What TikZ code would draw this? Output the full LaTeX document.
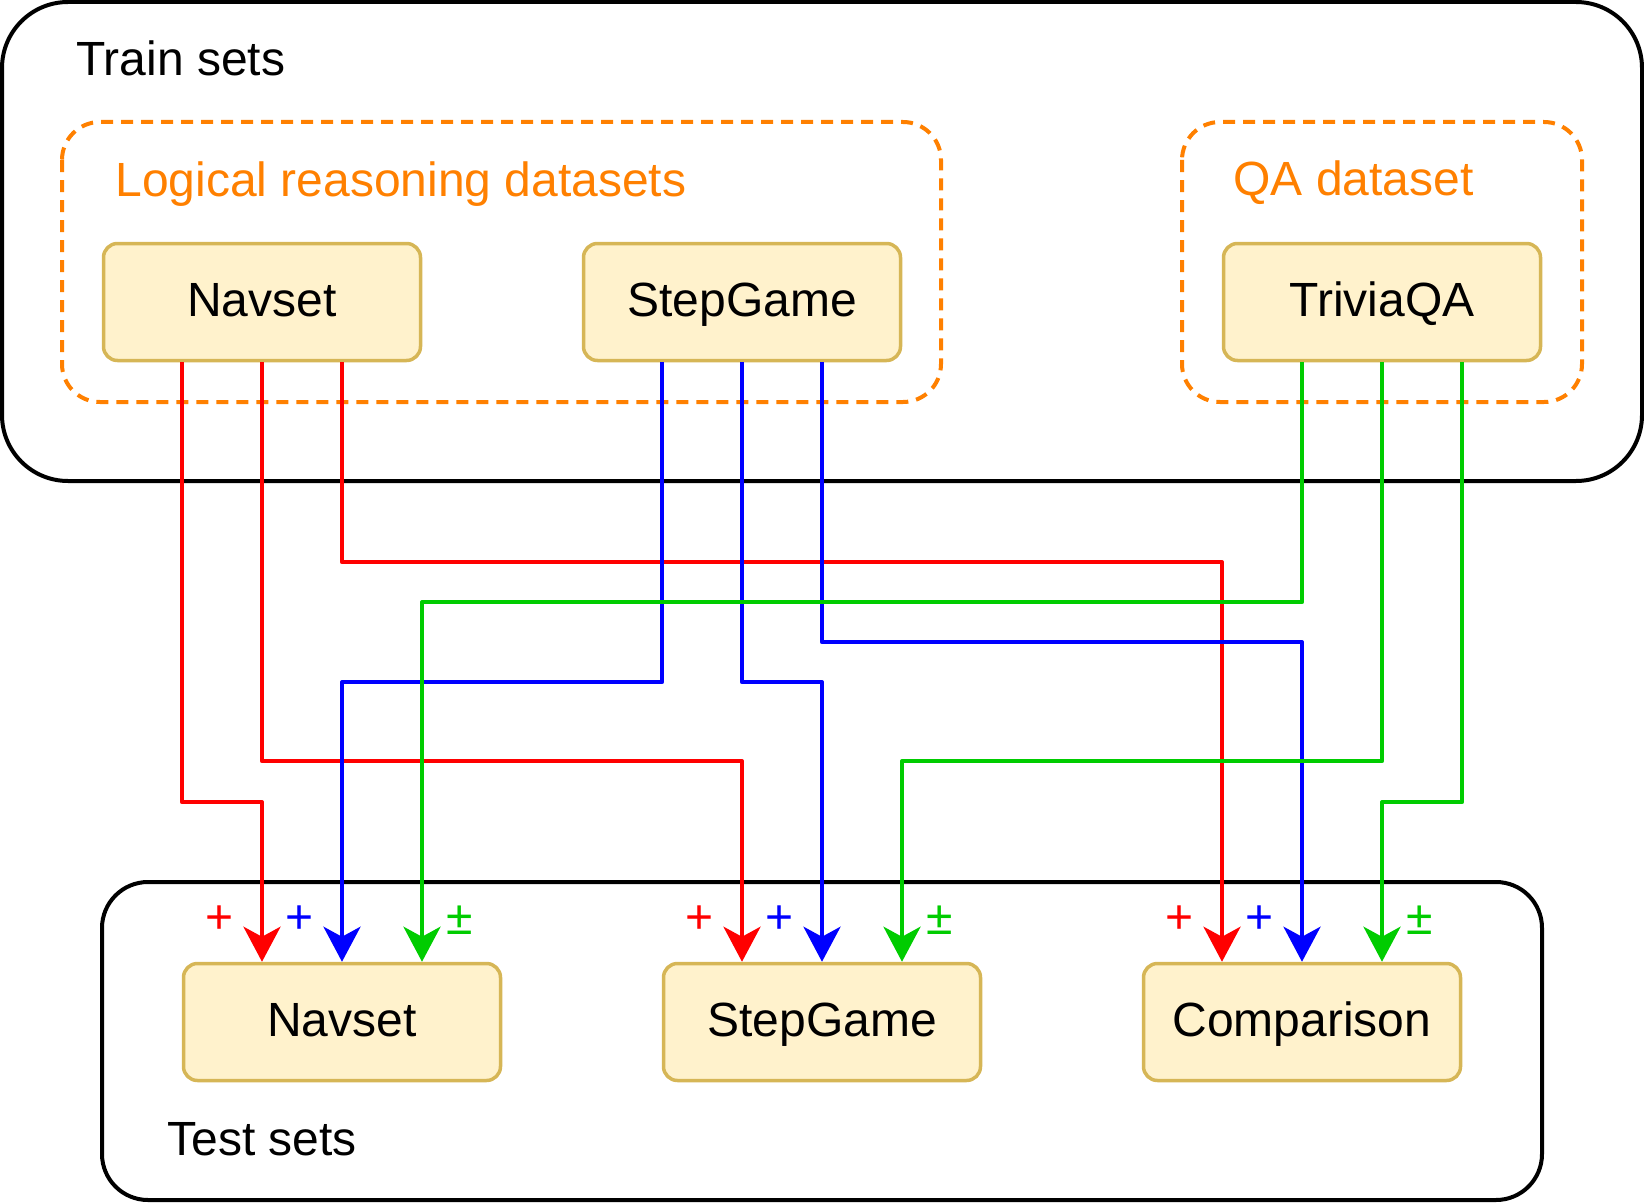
\documentclass[tikz,border=0pt]{standalone}
\usepackage{fontspec}
\setmainfont{Liberation Sans}
\usetikzlibrary{arrows.meta}

\definecolor{boxfill}{HTML}{FFF2CC}
\definecolor{boxline}{HTML}{D6B656}
\definecolor{grporange}{HTML}{FF8000}
\definecolor{lnred}{HTML}{FF0000}
\definecolor{lnblue}{HTML}{0000FF}
\definecolor{lngreen}{HTML}{00CC00}

\begin{document}
\begin{tikzpicture}[
        x = 0.5pt, y = -0.5pt,
        line join=round,
        frame/.style = {draw, line width=2pt},
        group/.style = {draw=grporange, line width=2pt, dash pattern=on 6pt off 4pt, rounded corners=19pt},
        dset/.style = {draw=boxline, fill=boxfill, line width=1.75pt, rounded corners=7pt,
            minimum width=158.5pt, minimum height=58.5pt, inner sep=0pt,
            font=\fontsize{24}{28}\selectfont, text height=14.5pt, text depth=0pt},
        title/.style = {anchor=base west, inner sep=0pt, font=\fontsize{24}{28}\selectfont},
        link/.style = {line width=2pt, -{Stealth[length=17.5pt, width=18.5pt, inset=5pt]}},
        sign/.style = {inner sep=0pt, font=\fontsize{24}{28}\selectfont}
    ]
        \useasboundingbox (0, 0) rectangle (1644, 1204);

        % train and test frames
        \draw[frame, rounded corners=33pt] (2, 2) rectangle (1642, 481);
        \draw[frame, rounded corners=23pt] (102, 882) rectangle (1542, 1200);
        \node[title] (trainlbl) at (76, 76) {Train sets};
        \node[title] (testlbl) at (167, 1155) {Test sets};

        % dataset groups
        \draw[group] (62, 122) rectangle (941, 402);
        \draw[group] (1182, 122) rectangle (1582, 402);
        \node[title, text=grporange] (logiclbl) at (115, 196) {Logical reasoning datasets};
        \node[title, text=grporange] (qalbl) at (1233, 195) {QA dataset};

        % train datasets
        \node[dset] (trnav) at (262, 302) {Navset};
        \node[dset] (trstep) at (742, 302) {StepGame};
        \node[dset] (trqa) at (1382, 302) {TriviaQA};

        % test datasets
        \node[dset] (tenav) at (342, 1022) {Navset};
        \node[dset] (testep) at (822, 1022) {StepGame};
        \node[dset] (tecmp) at (1302, 1022) {Comparison};

        % Navset links
        \draw[link, lnred] ([xshift=-40pt]trnav.south) -- ++(0, 440) -| ([xshift=-40pt]tenav.north);
        \draw[link, lnred] (trnav.south) -- ++(0, 399) -| ([xshift=-40pt]testep.north);
        \draw[link, lnred] ([xshift=40pt]trnav.south) -- ++(0, 200) -| ([xshift=-40pt]tecmp.north);

        % StepGame links
        \draw[link, lnblue] ([xshift=-40pt]trstep.south) -- ++(0, 320) -| (tenav.north);
        \draw[link, lnblue] (trstep.south) -- ++(0, 320) -| (testep.north);
        \draw[link, lnblue] ([xshift=40pt]trstep.south) -- ++(0, 280) -| (tecmp.north);

        % TriviaQA links
        \draw[link, lngreen] ([xshift=-40pt]trqa.south) -- ++(0, 240) -| ([xshift=40pt]tenav.north);
        \draw[link, lngreen] (trqa.south) -- ++(0, 399) -| ([xshift=40pt]testep.north);
        \draw[link, lngreen] ([xshift=40pt]trqa.south) -- ++(0, 440) -| ([xshift=40pt]tecmp.north);

        % signs
        \node[sign, text=lnred] (snav1) at ([xshift=-61pt, yshift=21pt]tenav.north) {+};
        \node[sign, text=lnblue] (snav2) at ([xshift=-21pt, yshift=21pt]tenav.north) {+};
        \node[sign, text=lngreen] (snav3) at ([xshift=59pt, yshift=21pt]tenav.north) {±};
        \node[sign, text=lnred] (sstep1) at ([xshift=-61pt, yshift=21pt]testep.north) {+};
        \node[sign, text=lnblue] (sstep2) at ([xshift=-21pt, yshift=21pt]testep.north) {+};
        \node[sign, text=lngreen] (sstep3) at ([xshift=59pt, yshift=21pt]testep.north) {±};
        \node[sign, text=lnred] (scmp1) at ([xshift=-61pt, yshift=21pt]tecmp.north) {+};
        \node[sign, text=lnblue] (scmp2) at ([xshift=-21pt, yshift=21pt]tecmp.north) {+};
        \node[sign, text=lngreen] (scmp3) at ([xshift=59pt, yshift=21pt]tecmp.north) {±};

    \end{tikzpicture}
\end{document}
